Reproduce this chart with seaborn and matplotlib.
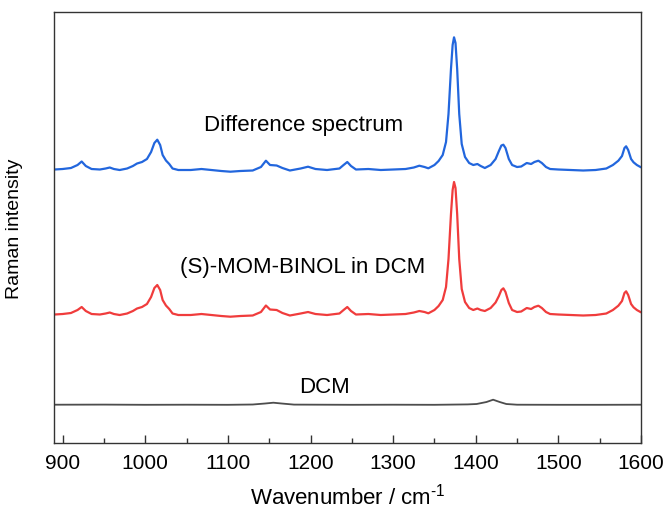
import numpy as np
import matplotlib
matplotlib.use("Agg")
import matplotlib.pyplot as plt
import matplotlib.ticker as mticker
import seaborn as sns

# ── DATA (arbitrary intensity units) ─────────────────────────────────────────

WN = [890, 900, 910, 918, 923, 928, 935, 945, 952, 957, 962, 969, 978, 985,
      990, 996, 1002, 1007, 1011, 1014.5, 1018, 1021, 1025, 1029, 1033, 1040,
      1055, 1068, 1080, 1092, 1103, 1115, 1130, 1140, 1146, 1151, 1159, 1166,
      1175, 1188, 1197, 1206, 1220, 1235, 1240, 1244.5, 1249, 1255, 1270, 1285,
      1300, 1315, 1325, 1331.7, 1338, 1342.6, 1350, 1355, 1360, 1364, 1367,
      1370, 1372, 1373.7, 1375.5, 1377.5, 1380, 1383, 1387, 1392, 1397, 1402,
      1406, 1411, 1418, 1424, 1428, 1431, 1433.4, 1436, 1440, 1444, 1450, 1455,
      1461.7, 1467, 1471, 1475.8, 1480, 1485, 1490, 1500, 1515, 1530, 1545,
      1558, 1566, 1572.6, 1577, 1580, 1582, 1584.5, 1588, 1591, 1595, 1600]

DIFF = [273.5, 274, 275, 278, 281.5, 277, 274, 273.5, 274.5, 275.5, 274, 273,
        274.5, 277, 279.5, 281, 284, 291, 300, 303.3, 298, 288, 282.5, 279,
        274.5, 273, 273, 274, 273, 272, 271.3, 272, 272.5, 276, 282.3, 278,
        277.5, 275, 272.5, 274.5, 276.3, 274, 273, 274.5, 278, 281, 277, 273.5,
        274, 273, 273.5, 274, 275.5, 277.3, 276, 274.7, 278, 282, 288, 301, 329,
        374, 398, 405.7, 400, 374, 329, 299, 286, 280, 278, 279, 277, 275, 278,
        284, 292, 297.5, 298.3, 295, 284, 278, 276, 276.5, 280, 279, 281, 282.3,
        280, 276, 274, 273.5, 273, 272.5, 273, 274.5, 278, 282.3, 287, 295,
        296.7, 293, 284, 280.7, 278, 275.7]

BINOL = [128.5, 129, 130, 133, 136, 132, 129, 128.5, 129.5, 130.5, 129, 128,
         129.5, 132, 134.5, 136, 139, 146, 155, 158, 153, 143, 137.5, 134,
         129.5, 128, 128, 129, 128, 127, 126.3, 127, 127.5, 131, 137.5, 133.5,
         133, 130, 127.5, 129.5, 131, 129, 128, 129.5, 133, 136, 132, 128.5,
         129, 128, 128.5, 129, 130.5, 132, 131, 129.7, 133, 137, 143, 156, 184,
         229, 253, 261, 255, 229, 184, 154, 141, 135, 133, 134.5, 133, 132, 135,
         140.5, 147, 153, 154.7, 151, 140, 133, 131, 131.5, 135, 134, 136, 137.3,
         135, 131, 129, 128.5, 128, 127.5, 128, 129.5, 133, 137.3, 142, 150,
         151.7, 148, 139, 135.7, 133, 130.7]

WN_DCM = [890, 950, 1000, 1050, 1100, 1130, 1145, 1155, 1165, 1180, 1250, 1300,
          1350, 1390, 1401, 1413, 1421, 1429, 1437, 1450, 1500, 1550, 1600]
DCM = [38.3, 38.4, 38.2, 38.3, 38.2, 38.5, 39.5, 40.3, 39.5, 38.4, 38.2, 38.3,
       38.2, 38.6, 39.0, 41.0, 43.3, 41.0, 39.0, 38.3, 38.2, 38.2, 38.3]

LABELS = ["Difference spectrum", "(S)-MOM-BINOL in DCM", "DCM"]

COLORS = {"diff": "#2266dd", "binol": "#f03c3c", "dcm": "#4d4d4d"}

# ── STYLE ─────────────────────────────────────────────────────────────────────

sns.set_theme(style="ticks")
plt.rcParams.update({
    "font.family":        ["Liberation Sans", "DejaVu Sans"],
    "mathtext.fontset":   "custom",
    "mathtext.rm":        "Liberation Sans",
    "mathtext.default":   "regular",
    "text.color":         "black",
    "axes.labelcolor":    "black",
    "xtick.labelcolor":   "black",
    "axes.edgecolor":     "#333333",
    "axes.linewidth":     1.0,
})

# ── FIGURE ────────────────────────────────────────────────────────────────────

fig = plt.figure(figsize=(6.65, 5.1), dpi=100)
ax = fig.add_axes([0.0812, 0.1294, 0.8827, 0.8451])

sns.lineplot(x=WN_DCM, y=DCM, ax=ax, color=COLORS["dcm"], linewidth=1.3)
sns.lineplot(x=WN, y=BINOL, ax=ax, color=COLORS["binol"], linewidth=1.6)
sns.lineplot(x=WN, y=DIFF, ax=ax, color=COLORS["diff"], linewidth=1.6)

ax.text(1192, 313.3, LABELS[0], ha="center", va="baseline", fontsize=16)
ax.text(1191, 171.3, LABELS[1], ha="center", va="baseline", fontsize=16)
ax.text(1217, 51.3, LABELS[2], ha="center", va="baseline", fontsize=16)

ax.set_xlim(889.5, 1600)
ax.set_ylim(0, 431)
ax.xaxis.set_major_locator(mticker.MultipleLocator(100))
ax.xaxis.set_minor_locator(mticker.MultipleLocator(50))
ax.tick_params(axis="x", which="major", direction="in", length=6, width=1,
               labelsize=15, pad=7, color="#333333")
ax.tick_params(axis="x", which="minor", direction="in", length=3.5, width=1,
               color="#333333")
ax.set_yticks([])

ax.set_xlabel("Wavenumber / cm$^{\\text{-1}}$", fontsize=16, labelpad=8)
ax.set_ylabel("Raman intensity", fontsize=14, labelpad=22)

for s in ax.spines.values():
    s.set_visible(True)

fig.savefig("out.png", dpi=100)
